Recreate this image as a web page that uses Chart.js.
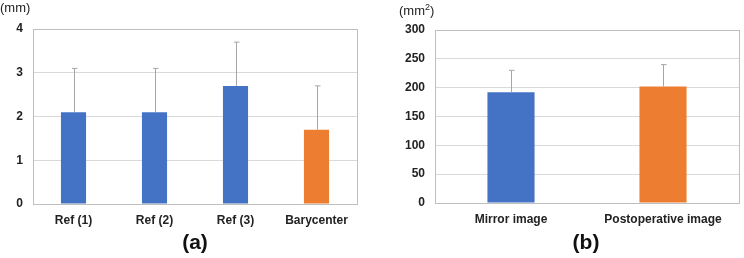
<!DOCTYPE html>
<html>
<head>
<meta charset="utf-8">
<script src="https://cdn.jsdelivr.net/npm/chart.js@4/dist/chart.umd.min.js"></script>
<style>
  body { margin: 0; background: #fff; font-family: "Liberation Sans", Arial, sans-serif; }
  .panel { position: absolute; top: 0; width: 372px; height: 258px; }
  .unit { position: absolute; font-size: 13px; color: #222; }
  .tag { position: absolute; font-size: 21px; font-weight: bold; color: #111; transform: translateX(-50%); }
</style>
</head>
<body>
<div class="panel" style="left:0">
  <canvas id="chartA" width="372" height="258"></canvas>
  <div class="unit" style="left:0px;top:0px">(mm)</div>
  <div class="tag" style="left:195px;top:230px">(a)</div>
</div>
<div class="panel" style="left:372px">
  <canvas id="chartB" width="372" height="258"></canvas>
  <div class="unit" style="left:27px;top:2px">(mm<sup style="font-size:9px">2</sup>)</div>
  <div class="tag" style="left:214px;top:230px">(b)</div>
</div>
<script>
// panel (a)
const labelsA = ['Ref (1)', 'Ref (2)', 'Ref (3)', 'Barycenter'];
const meanA = [2.1, 2.1, 2.7, 1.7];
const sdA = [1.0, 1.0, 1.0, 1.0];
const colorsA = ['#4472C4', '#4472C4', '#4472C4', '#ED7D31'];

// panel (b)
const labelsB = ['Mirror image', 'Postoperative image'];
const meanB = [192, 202];
const sdB = [38, 38];
const colorsB = ['#4472C4', '#ED7D31'];

// upper error whisker + frame around plot area
const errorBars = {
    id: 'errorBars',
    afterDatasetsDraw(chart) {
        const ctx = chart.ctx;
        const y = chart.scales.y;
        const meta = chart.getDatasetMeta(0);
        const sd = chart.data.datasets[0].sd;
        ctx.save();
        ctx.strokeStyle = '#a6a6a6';
        ctx.lineWidth = 1;
        meta.data.forEach((bar, i) => {
            const v = chart.data.datasets[0].data[i];
            const x = Math.round(bar.x) + 0.5;
            const top = y.getPixelForValue(v + sd[i]);
            ctx.beginPath();
            ctx.moveTo(x, bar.y);
            ctx.lineTo(x, top);
            ctx.moveTo(x - 2.5, top);
            ctx.lineTo(x + 3, top);
            ctx.stroke();
        });
        const a = chart.chartArea;
        ctx.strokeStyle = '#bfbfbf';
        ctx.strokeRect(Math.round(a.left) + 0.5, Math.round(a.top) + 0.5,
            Math.round(a.right - a.left), Math.round(a.bottom - a.top));
        ctx.restore();
    }
};

function makeChart(id, labels, data, sd, colors, yMax, step, left, right, top, bottom) {
    const font = { family: '"Liberation Sans", Arial, sans-serif', size: 12, weight: 'bold' };
    return new Chart(document.getElementById(id), {
        type: 'bar',
        data: {
            labels: labels,
            datasets: [{
                data: data,
                sd: sd,
                backgroundColor: colors,
                barPercentage: 0.31,
                categoryPercentage: 1.0
            }]
        },
        options: {
            responsive: false,
            animation: false,
            layout: { padding: { left: 0, right: right, top: top, bottom: 0 } },
            plugins: { legend: { display: false }, tooltip: { enabled: false } },
            scales: {
                x: {
                    grid: { display: false, drawTicks: false },
                    border: { display: false },
                    ticks: { font: font, color: '#222', padding: 9 },
                    afterFit: s => { s.height = 258 - bottom; }
                },
                y: {
                    min: 0, max: yMax,
                    grid: { color: '#d9d9d9', drawTicks: false },
                    border: { display: false },
                    ticks: { stepSize: step, font: font, color: '#222', padding: 10 },
                    afterFit: s => { s.width = left; }
                }
            }
        },
        plugins: [errorBars]
    });
}

makeChart('chartA', labelsA, meanA, sdA, colorsA, 4, 1, 33, 15, 29, 204);
makeChart('chartB', labelsB, meanB, sdB, colorsB, 300, 50, 63, 5, 30, 203);
</script>
</body>
</html>
